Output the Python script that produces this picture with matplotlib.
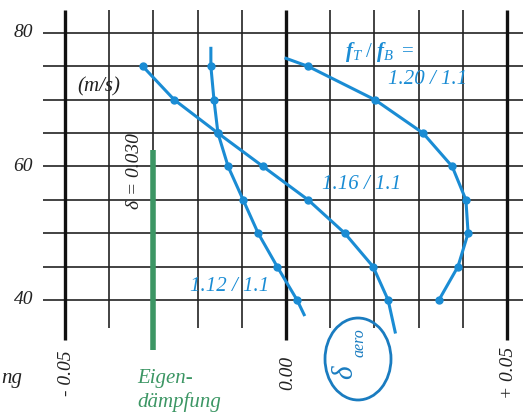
import matplotlib.pyplot as plt
from matplotlib.patches import Ellipse

plt.rcParams['font.family'] = ['Liberation Serif', 'DejaVu Serif']
plt.rcParams['mathtext.fontset'] = 'custom'
plt.rcParams['mathtext.it'] = 'Liberation Serif:italic'
plt.rcParams['mathtext.rm'] = 'Liberation Serif'
plt.rcParams['mathtext.bf'] = 'Liberation Serif:bold:italic'

# damping values (x) over wind speed in m/s (y), one curve per frequency ratio
speed_112 = [77.7, 75, 70, 65, 60, 55, 50, 45, 40, 37.8]
damp_112 = [-0.0170, -0.0170, -0.0163, -0.0154, -0.0131, -0.0097, -0.0063, -0.0020, 0.0025, 0.0041]
speed_116 = [75, 70, 65, 60, 55, 50, 45, 40, 35.2]
damp_116 = [-0.0324, -0.0253, -0.0154, -0.0052, 0.0050, 0.0133, 0.0197, 0.0231, 0.0247]
speed_120 = [76.2, 75, 70, 65, 60, 55, 50, 45, 40]
damp_120 = [0.0000, 0.0050, 0.0201, 0.0310, 0.0376, 0.0407, 0.0412, 0.0389, 0.0346]

eigen_damp = -0.030
eigen_range = [32.5, 62.5]

x_ticks = [-0.05, -0.04, -0.03, -0.02, -0.01, 0.00, 0.01, 0.02, 0.03, 0.04, 0.05]
x_labels = {-0.05: '- 0.05', 0.00: '0.00', 0.05: '+ 0.05'}
y_ticks = [40, 45, 50, 55, 60, 65, 70, 75, 80]
y_labels = {40: '40', 60: '60', 80: '80'}

blue = '#1a8cd4'
green = '#3c9664'

fig = plt.figure(figsize=(5.23, 4.12), dpi=100)
ax = fig.add_axes([0, 0, 1, 1])
ax.set_xlim(-0.06471, 0.05362)
ax.set_ylim(23.22, 84.94)
ax.axis('off')

# grid drawn by hand: horizontal lines, then thin/thick verticals
for y in y_ticks:
    ax.plot([-0.055, 0.06], [y, y], color='#222222', lw=1.2, zorder=1,
            solid_capstyle='butt')
for x in x_ticks:
    if x in x_labels:
        ax.plot([x, x], [34.0, 83.4], color='#111111', lw=2.4, zorder=1,
                solid_capstyle='butt')
    else:
        ax.plot([x, x], [35.8, 83.4], color='#222222', lw=1.2, zorder=1,
                solid_capstyle='butt')

for y, lab in y_labels.items():
    ax.text(-0.0572, y, lab, ha='right', va='center', fontsize=14,
            style='italic', color='#222222')
for x, lab in x_labels.items():
    ax.text(x + 0.0003, 29.0, lab, ha='center', va='center', fontsize=14,
            style='italic', rotation=90, color='#222222')

ax.text(-0.0423, 71.9, '(m/s)', ha='center', va='center', fontsize=15,
        style='italic', color='#222222')
ax.text(-0.0645, 28.3, 'ng', ha='left', va='center', fontsize=15,
        style='italic', color='#222222')

# structural damping bar
ax.plot([eigen_damp, eigen_damp], eigen_range, color=green, lw=4,
        solid_capstyle='butt', zorder=3)
ax.text(-0.0342, 59.3, 'δ = 0.030', ha='center', va='center', fontsize=14,
        style='italic', rotation=90, color='#222222')
ax.text(-0.0337, 28.3, 'Eigen-', ha='left', va='center', fontsize=15,
        style='italic', color=green)
ax.text(-0.0337, 24.7, 'dämpfung', ha='left', va='center', fontsize=15,
        style='italic', color=green)

# aerodynamic damping curves (first/last points are unmarked line ends)
ax.plot(damp_112, speed_112, color=blue, lw=2.2, zorder=4)
ax.plot(damp_112[1:-1], speed_112[1:-1], 'o', color=blue, ms=5, zorder=5)
ax.plot(damp_116, speed_116, color=blue, lw=2.2, zorder=4)
ax.plot(damp_116[:-1], speed_116[:-1], 'o', color=blue, ms=5, zorder=5)
ax.plot(damp_120, speed_120, color=blue, lw=2.2, zorder=4)
ax.plot(damp_120[1:], speed_120[1:], 'o', color=blue, ms=5, zorder=5)

ax.text(0.01335, 77.15, r'$\mathbf{f}_{T}\ /\ \mathbf{f}_{B}\ =$', ha='left',
        va='center', fontsize=15, color=blue)
ax.text(0.02308, 72.96, '1.20 / 1.1', ha='left', va='center', fontsize=15,
        style='italic', color=blue)
ax.text(0.00814, 57.23, '1.16 / 1.1', ha='left', va='center', fontsize=15,
        style='italic', color=blue)
ax.text(-0.02172, 41.95, '1.12 / 1.1', ha='left', va='center', fontsize=15,
        style='italic', color=blue)

ax.add_patch(Ellipse((0.01629, 31.16), 0.01493, 12.28, fill=False,
                     edgecolor='#1a7cc0', lw=2, zorder=4))
ax.text(0.01335, 29.21, 'δ', ha='center', va='center', fontsize=21,
        style='italic', rotation=90, color='#1a7cc0')
ax.text(0.01652, 33.56, 'aero', ha='center', va='center', fontsize=11.5,
        style='italic', rotation=90, color='#1a7cc0')

fig.savefig('out.png', dpi=100)
